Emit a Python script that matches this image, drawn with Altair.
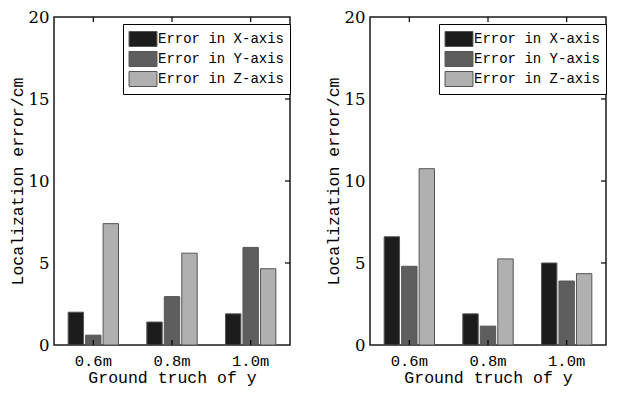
import altair as alt
import pandas as pd

groups = ["0.6m", "0.8m", "1.0m"]
series = ["Error in X-axis", "Error in Y-axis", "Error in Z-axis"]
colors = ["#1c1c1c", "#5e5e5e", "#b0b0b0"]

left_x = [2.0, 1.4, 1.9]
left_y = [0.6, 2.95, 5.95]
left_z = [7.4, 5.6, 4.65]

right_x = [6.6, 1.9, 5.0]
right_y = [4.8, 1.15, 3.9]
right_z = [10.75, 5.25, 4.35]

y_ticks = [0, 5, 10, 15, 20]
inner_ticks = [5, 10, 15]

MONO = "Liberation Mono"
SERIF = "DejaVu Serif"
W, H = 236, 328


def make_df(xs, ys, zs):
    rows = []
    for i, g in enumerate(groups):
        for s, vals in zip(series, (xs, ys, zs)):
            rows.append({"group": g, "series": s, "value": vals[i]})
    return pd.DataFrame(rows)


def panel(df, legend_x):
    xscale = alt.Scale(domain=groups, paddingInner=0.36, paddingOuter=0.18)
    yscale = alt.Scale(domain=[0, 20], nice=False)
    base = alt.Chart(df)
    bars = base.mark_bar(stroke="#555555", strokeWidth=1).encode(
        x=alt.X("group:N", scale=xscale, sort=groups,
                axis=alt.Axis(title="Ground truch of y", labelAngle=0, ticks=False,
                              domain=False, labelPadding=8, titlePadding=1,
                              labelFont=MONO, labelFontSize=15.5, labelColor="black",
                              titleFont=MONO, titleFontSize=16.5, titleFontWeight="normal",
                              titleColor="black")),
        xOffset=alt.XOffset("series:N", sort=series,
                            scale=alt.Scale(paddingInner=0.12, paddingOuter=0)),
        y=alt.Y("value:Q", scale=yscale,
                axis=alt.Axis(title="Localization error/cm", values=y_ticks, grid=False,
                              ticks=False, domain=False, labelPadding=5, titlePadding=3,
                              labelFont=SERIF, labelFontSize=16.5, labelColor="black",
                              titleFont=MONO, titleFontSize=16.5, titleFontWeight="normal",
                              titleColor="black")),
        color=alt.Color("series:N", sort=series,
                        scale=alt.Scale(domain=series, range=colors),
                        legend=alt.Legend(orient="none", legendX=legend_x, legendY=7,
                                          title=None,
                                          symbolType="M-1.47,-0.79L1.47,-0.79L1.47,0.79L-1.47,0.79Z",
                                          symbolSize=361, symbolStrokeColor="#555555",
                                          symbolStrokeWidth=1, symbolOffset=5,
                                          labelFont=MONO, labelFontSize=14, labelColor="black",
                                          labelOffset=5, padding=5, rowPadding=0,
                                          strokeColor="black", fillColor="white")),
    )
    gdf = pd.DataFrame({"group": groups})
    top_ticks = alt.Chart(gdf).mark_rule(color="black", strokeWidth=1.2).encode(
        x=alt.X("group:N", scale=xscale, sort=groups),
        y=alt.value(0), y2=alt.value(5),
    )
    bottom_ticks = alt.Chart(gdf).mark_rule(color="black", strokeWidth=1.2).encode(
        x=alt.X("group:N", scale=xscale, sort=groups),
        y=alt.value(H - 5), y2=alt.value(H),
    )
    tdf = pd.DataFrame({"tick": inner_ticks})
    right_ticks = alt.Chart(tdf).mark_rule(color="black", strokeWidth=1.2).encode(
        y=alt.Y("tick:Q", scale=yscale),
        x=alt.value(W - 5), x2=alt.value(W),
    )
    return alt.layer(bars, top_ticks, bottom_ticks, right_ticks).properties(width=W, height=H)


left = panel(make_df(left_x, left_y, left_z), 69)
right = panel(make_df(right_x, right_y, right_z), 69)

chart = alt.hconcat(left, right, spacing=32).resolve_scale(
    color="independent"
).resolve_legend(color="independent").properties(
    padding={"left": 0, "top": 0, "right": 0, "bottom": 0}
).configure_view(stroke="#1a1a1a", strokeWidth=1.5)

chart.save("out.html", embed_options={"renderer": "svg", "actions": False})
